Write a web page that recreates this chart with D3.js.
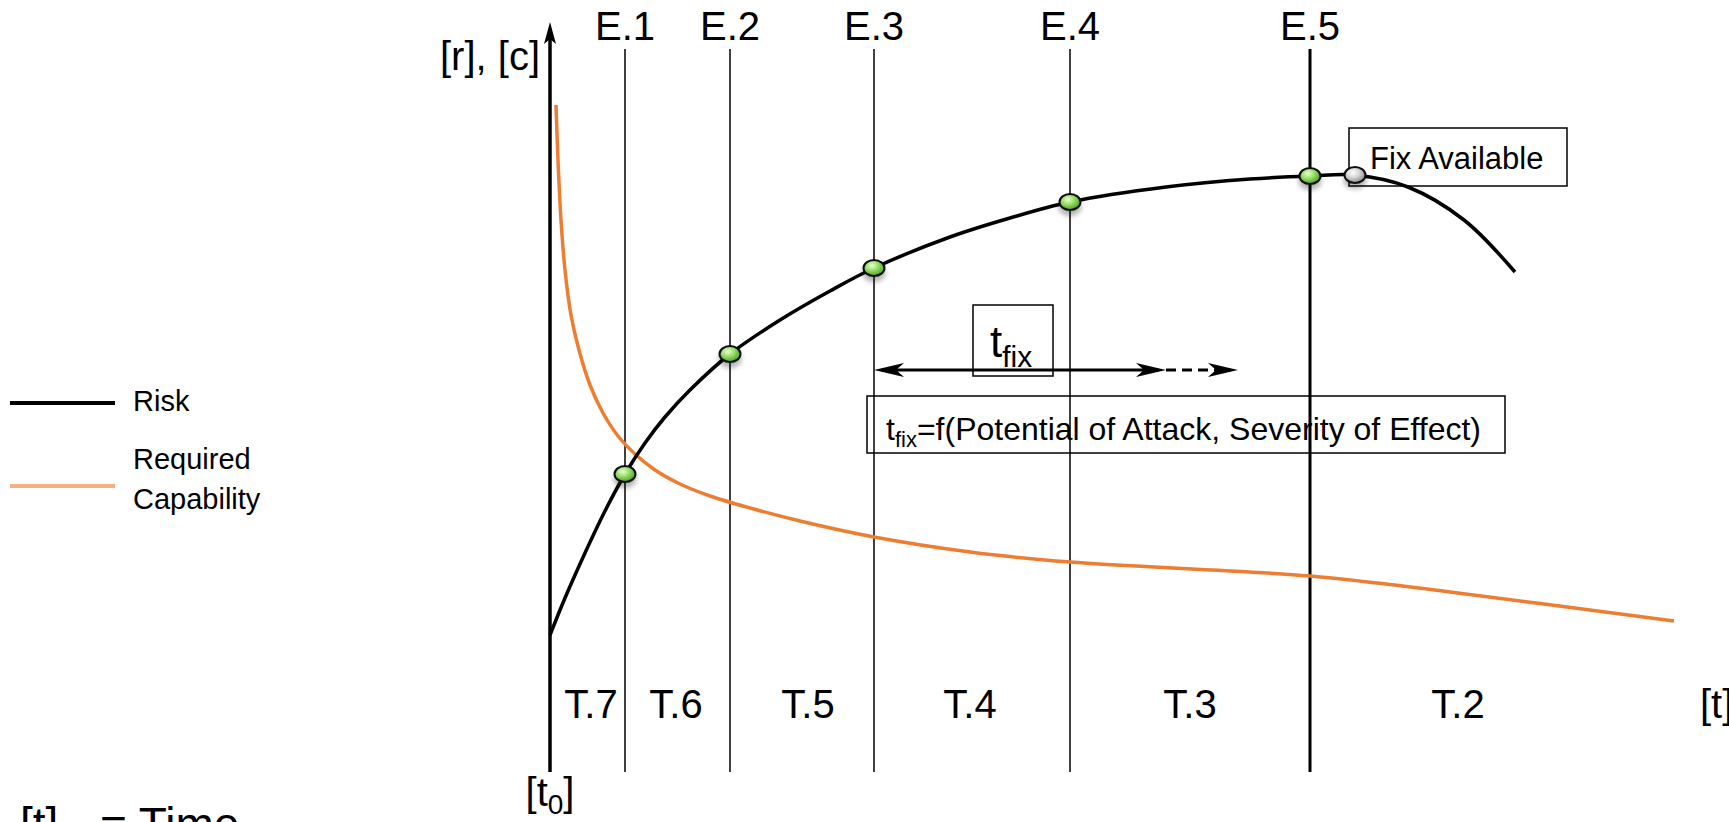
<!DOCTYPE html>
<html>
<head>
<meta charset="utf-8">
<script src="https://cdn.jsdelivr.net/npm/d3@7"></script>
<style>
    body { margin: 0; background: #fff; }
    svg { display: block; font-family: "Liberation Sans", Arial, sans-serif; }
</style>
</head>
<body>
<div id="chart"></div>
<script>
// Events on the time axis (vertical lines E.1 .. E.5)
const eventLabels = ["E.1", "E.2", "E.3", "E.4", "E.5"];
const eventTimes = [7.5, 18, 32.4, 52, 76];
const eventRisk = [29.8, 41.8, 50.4, 57, 59.6];

// Phase labels between the events
const phaseLabels = ["T.7", "T.6", "T.5", "T.4", "T.3", "T.2"];
const phaseTimes = [4.1, 12.6, 25.8, 42, 64, 90.8];

// Risk curve [r]
const riskT = [0, 1.5, 3.5, 5.5, 7.5, 9.5, 11.5, 14, 18, 23, 28, 32.4, 40, 46, 52, 61.6, 70, 76, 80.5, 85.8, 91.4, 96.5];
const riskV = [13.7, 17.4, 21.9, 26.1, 29.8, 32.9, 35.5, 38.2, 41.8, 45.2, 48.1, 50.4, 53.5, 55.4, 57, 58.5, 59.3, 59.6, 59.7, 58.5, 55.2, 50];

// Required capability curve [c]
const capT = [0.6, 0.8, 1.1, 1.5, 2.1, 2.9, 4, 5.3, 6.8, 8.5, 10.5, 13, 16, 20, 25, 32.4, 42, 52, 76, 90, 112.4];
const capV = [66.7, 61.2, 55.2, 50.2, 45.7, 42.2, 38.7, 35.9, 33.6, 31.8, 30.2, 28.8, 27.6, 26.4, 25.1, 23.5, 22, 21, 19.6, 18, 15.1];

// Fix available point
const fixT = 80.5;
const fixV = 59.7;

// t_fix interval (solid part, dashed extension)
const tfixStart = 32.4;
const tfixEnd = 61.6;
const tfixExtended = 68.8;
const tfixLevel = 40.2;

const width = 1729;
const height = 822;

const svg = d3.select("#chart").append("svg")
    .attr("width", width)
    .attr("height", height);

const x = d3.scaleLinear().domain([0, 115]).range([550, 1700]);
const y = d3.scaleLinear().domain([0, 75]).range([772, 22]);

// defs: gradients + shadow for the dots
const defs = svg.append("defs");

const shadow = defs.append("filter")
    .attr("id", "shadow")
    .attr("x", "-60%").attr("y", "-60%")
    .attr("width", "220%").attr("height", "260%");
shadow.append("feGaussianBlur").attr("in", "SourceAlpha").attr("stdDeviation", 2.5);
shadow.append("feOffset").attr("dy", 5).attr("result", "off");
shadow.append("feComponentTransfer").append("feFuncA").attr("type", "linear").attr("slope", 0.3);
const merge = shadow.append("feMerge");
merge.append("feMergeNode");
merge.append("feMergeNode").attr("in", "SourceGraphic");

function radial(id, stops) {
    const g = defs.append("radialGradient")
        .attr("id", id)
        .attr("cx", "40%").attr("cy", "35%").attr("r", "65%");
    stops.forEach(s => g.append("stop").attr("offset", s[0]).attr("stop-color", s[1]));
}
radial("greenDot", [["0%", "#eaffd8"], ["45%", "#9be06a"], ["100%", "#4e9e22"]]);
radial("greyDot", [["0%", "#ffffff"], ["45%", "#d8d8d8"], ["100%", "#8c8c8c"]]);

// Event lines
eventTimes.forEach((t, i) => {
    svg.append("line")
        .attr("x1", x(t)).attr("x2", x(t))
        .attr("y1", y(72.3)).attr("y2", y(0))
        .attr("stroke", "#000")
        .attr("stroke-width", i === 4 ? 3 : 1.5);

    svg.append("text")
        .attr("x", x(t))
        .attr("y", y(73.2))
        .attr("text-anchor", "middle")
        .attr("font-size", "40px")
        .text(eventLabels[i]);
});

// Phase labels
phaseTimes.forEach((t, i) => {
    svg.append("text")
        .attr("x", x(t))
        .attr("y", y(5.4))
        .attr("text-anchor", "middle")
        .attr("font-size", "40px")
        .text(phaseLabels[i]);
});

svg.append("text")
    .attr("x", x(115))
    .attr("y", y(5.4))
    .attr("font-size", "40px")
    .text("[t]");

// Y axis with arrow
svg.append("line")
    .attr("x1", x(0)).attr("x2", x(0))
    .attr("y1", y(0)).attr("y2", y(74))
    .attr("stroke", "#000")
    .attr("stroke-width", 3.5);

svg.append("path")
    .attr("d", `M ${x(0)},${y(75)} L ${x(0) + 6},${y(75) + 22} L ${x(0)},${y(75) + 17} L ${x(0) - 6},${y(75) + 22} Z`)
    .attr("fill", "#000");

svg.append("text")
    .attr("x", x(-1))
    .attr("y", y(70.2))
    .attr("text-anchor", "end")
    .attr("font-size", "40px")
    .text("[r], [c]");

const t0 = svg.append("text")
    .attr("x", x(0))
    .attr("y", y(-3.4))
    .attr("text-anchor", "middle")
    .attr("font-size", "40px");
t0.append("tspan").text("[t");
t0.append("tspan").attr("font-size", "28px").attr("dy", 8).text("0");
t0.append("tspan").attr("dy", -8).text("]");

// Curves
const line = d3.line()
    .x(d => x(d[0]))
    .y(d => y(d[1]))
    .curve(d3.curveCatmullRom.alpha(0.5));

svg.append("path")
    .datum(capT.map((t, i) => [t, capV[i]]))
    .attr("d", line)
    .attr("fill", "none")
    .attr("stroke", "#ed7d31")
    .attr("stroke-width", 3.5);

svg.append("path")
    .datum(riskT.map((t, i) => [t, riskV[i]]))
    .attr("d", line)
    .attr("fill", "none")
    .attr("stroke", "#000")
    .attr("stroke-width", 3.5);

// t_fix arrow
function arrowHead(px, py, dir) {
    // dir: 1 points right, -1 points left
    return `M ${px},${py} L ${px - dir * 30},${py - 7} L ${px - dir * 22},${py} L ${px - dir * 30},${py + 7} Z`;
}

svg.append("line")
    .attr("x1", x(tfixStart) + 10).attr("x2", x(tfixEnd) - 10)
    .attr("y1", y(tfixLevel)).attr("y2", y(tfixLevel))
    .attr("stroke", "#000")
    .attr("stroke-width", 3);

svg.append("line")
    .attr("x1", x(tfixEnd)).attr("x2", x(tfixExtended) - 14)
    .attr("y1", y(tfixLevel)).attr("y2", y(tfixLevel))
    .attr("stroke", "#000")
    .attr("stroke-width", 3)
    .attr("stroke-dasharray", "10,6");

svg.append("path").attr("d", arrowHead(x(tfixStart), y(tfixLevel), -1)).attr("fill", "#000");
svg.append("path").attr("d", arrowHead(x(tfixEnd), y(tfixLevel), 1)).attr("fill", "#000");
svg.append("path").attr("d", arrowHead(x(tfixExtended), y(tfixLevel), 1)).attr("fill", "#000");

// t_fix box
svg.append("rect")
    .attr("x", x(42.3)).attr("y", y(46.7))
    .attr("width", x(50.3) - x(42.3))
    .attr("height", y(39.6) - y(46.7))
    .attr("fill", "none")
    .attr("stroke", "#000")
    .attr("stroke-width", 1.5);

const tfixLabel = svg.append("text")
    .attr("x", x(44))
    .attr("y", y(41.5))
    .attr("font-size", "44px");
tfixLabel.append("tspan").text("t");
tfixLabel.append("tspan").attr("font-size", "30px").attr("dy", 10).text("fix");

// formula box
svg.append("rect")
    .attr("x", x(31.7)).attr("y", y(37.6))
    .attr("width", x(95.5) - x(31.7))
    .attr("height", y(31.9) - y(37.6))
    .attr("fill", "none")
    .attr("stroke", "#000")
    .attr("stroke-width", 1.5);

const formula = svg.append("text")
    .attr("x", x(33.6))
    .attr("y", y(33.2))
    .attr("font-size", "32px");
formula.append("tspan").text("t");
formula.append("tspan").attr("font-size", "22px").attr("dy", 7).text("fix");
formula.append("tspan").attr("dy", -7).text("=f(Potential of Attack, Severity of Effect)");

// Fix available box
svg.append("rect")
    .attr("x", x(79.9)).attr("y", y(64.4))
    .attr("width", x(101.7) - x(79.9))
    .attr("height", y(58.6) - y(64.4))
    .attr("fill", "none")
    .attr("stroke", "#000")
    .attr("stroke-width", 1.5);

svg.append("text")
    .attr("x", x(82))
    .attr("y", y(60.3))
    .attr("font-size", "31px")
    .text("Fix Available");

// Event dots on the risk curve
eventTimes.forEach((t, i) => {
    svg.append("ellipse")
        .attr("cx", x(t)).attr("cy", y(eventRisk[i]))
        .attr("rx", 10.5).attr("ry", 8)
        .attr("fill", "url(#greenDot)")
        .attr("stroke", "#111")
        .attr("stroke-width", 2)
        .attr("filter", "url(#shadow)");
});

svg.append("ellipse")
    .attr("cx", x(fixT)).attr("cy", y(fixV))
    .attr("rx", 10.5).attr("ry", 8)
    .attr("fill", "url(#greyDot)")
    .attr("stroke", "#111")
    .attr("stroke-width", 2)
    .attr("filter", "url(#shadow)");

// Legend
const legend = svg.append("g");

legend.append("line")
    .attr("x1", 10).attr("x2", 115)
    .attr("y1", 403).attr("y2", 403)
    .attr("stroke", "#000")
    .attr("stroke-width", 4);

legend.append("text")
    .attr("x", 133).attr("y", 411)
    .attr("font-size", "29px")
    .text("Risk");

legend.append("line")
    .attr("x1", 10).attr("x2", 115)
    .attr("y1", 486).attr("y2", 486)
    .attr("stroke", "#f4b183")
    .attr("stroke-width", 4);

legend.append("text")
    .attr("x", 133).attr("y", 469)
    .attr("font-size", "29px")
    .text("Required");

legend.append("text")
    .attr("x", 133).attr("y", 509)
    .attr("font-size", "29px")
    .text("Capability");

// Time note at the bottom
svg.append("text")
    .attr("x", 20).attr("y", 840)
    .attr("font-size", "46px")
    .text("[t]");

svg.append("text")
    .attr("x", 100).attr("y", 840)
    .attr("font-size", "46px")
    .text("= Time");
</script>
</body>
</html>
